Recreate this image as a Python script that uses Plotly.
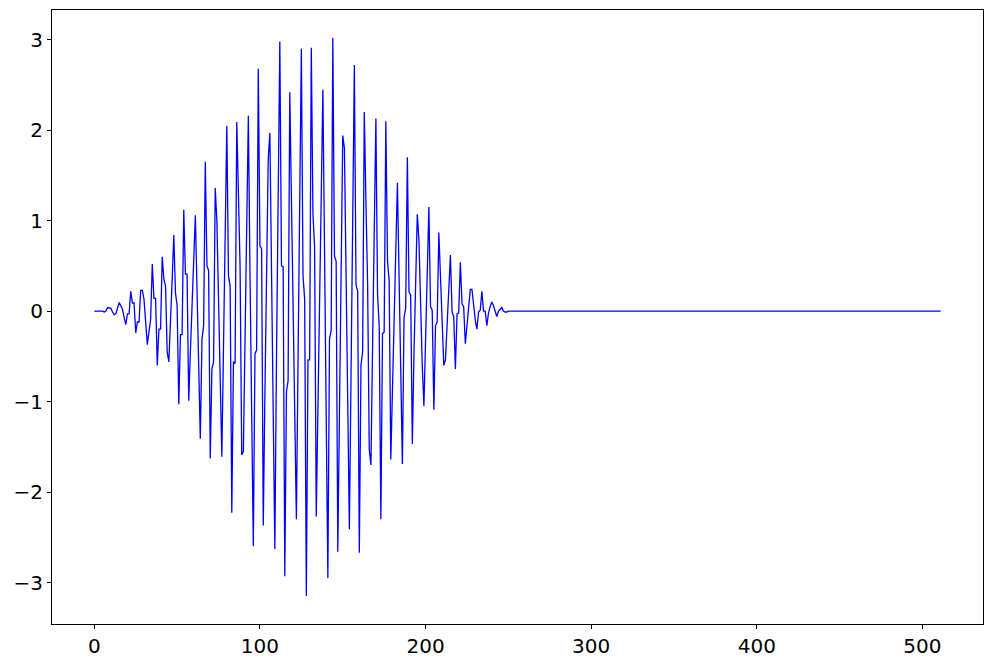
import plotly.graph_objects as go

# signal samples 0..250; remaining samples up to 511 are zero
head_values = [
    0, 0, 0, 0, 0, 0, -0.01, 0.0, 0.04, 0.035,
    0.03, -0.01, -0.04, -0.03, 0.03, 0.095, 0.06, 0.02, -0.07, -0.15,
    -0.03, -0.03, 0.22, 0.09, 0.09, -0.24, -0.12, -0.12, 0.23, 0.23,
    0.13, -0.12, -0.37, -0.23, -0.09, 0.52, 0.14, 0.14, -0.60, -0.2,
    -0.2, 0.6, 0.35, 0.28, -0.45, -0.56, -0.16, 0.35, 0.84, 0.2,
    0.06, -1.03, -0.26, -0.26, 1.12, 0.41, 0.41, -0.99, -0.45, 0.05,
    0.55, 1.06, 0.24, -0.58, -1.41, -0.31, -0.16, 1.65, 0.5, 0.45,
    -1.63, -0.64, -0.56, 1.36, 1.0, 0.13, -0.74, -1.61, -0.39, 0.83,
    2.05, 0.39, 0.28, -2.23, -0.56, -0.58, 2.09, 1.3, 0.5, -1.59,
    -1.55, -0.31, 0.92, 2.16, 0.39, -1.1, -2.6, -0.47, -0.43, 2.68,
    0.72, 0.69, -2.37, -0.9, 0.6, 1.68, 1.97, 0.44, -1.1, -2.63,
    -0.5, 1.2, 2.98, 0.5, 0.49, -2.93, -0.89, -0.77, 2.42, 1.25,
    0.07, -1.1, -2.3, -0.55, 1.18, 2.9, 0.39, 0.13, -3.15, -0.54,
    -0.54, 2.91, 1.07, 0.71, -2.27, -1.06, 0.12, 1.29, 2.45, 0.67,
    -1.12, -2.95, -0.31, -0.21, 3.02, 0.61, 0.55, -2.66, -1.13, 0.4,
    1.94, 1.8, 0.4, -1.0, -2.41, -0.7, 1.0, 2.72, 0.29, 0.22,
    -2.67, -0.6, -0.45, 2.2, 1.2, 0.3, -1.53, -1.70, -0.4, 0.87,
    2.13, 0.19, -0.17, -2.3, -0.25, -0.23, 2.1, 0.56, 0.34, -1.64,
    -0.87, -0.1, 0.65, 1.42, 0.38, -0.66, -1.69, -0.07, 0.03, 1.7,
    0.21, 0.18, -1.47, -0.47, 0.3, 1.07, 0.78, -0.1, -0.6, -1.05,
    -0.32, 0.42, 1.15, 0.05, 0.01, -1.09, -0.16, -0.12, 0.87, 0.38,
    -0.11, -0.6, -0.54, -0.15, 0.23, 0.62, -0.01, -0.06, -0.64, -0.03,
    -0.02, 0.54, 0.08, 0.05, -0.36, -0.14, 0.05, 0.24, 0.24, 0.05,
    -0.1, -0.2, -0.01, 0.01, 0.22, 0.0, 0.0, -0.16, -0.02, 0.05,
    0.1, 0.06, 0.0, -0.06, 0.0, 0.02, 0.04, 0.0, -0.01, -0.01,
    0.0,
]
n_samples = 512
tail_values = [0.0] * (n_samples - len(head_values))
values = head_values + tail_values
sample_index = list(range(n_samples))

x_ticks = [0, 100, 200, 300, 400, 500]
y_ticks = [-3, -2, -1, 0, 1, 2, 3]

# matplotlib-like 5% margins
xmin, xmax = min(sample_index), max(sample_index)
ymin, ymax = min(values), max(values)
xpad = 0.05 * (xmax - xmin)
ypad = 0.05 * (ymax - ymin)

fig = go.Figure()
fig.add_trace(go.Scatter(
    x=sample_index, y=values, mode="lines",
    line=dict(color="#0000ff", width=1.3),
    hoverinfo="x+y", showlegend=False,
))

axis_common = dict(
    showgrid=False, zeroline=False,
    showline=True, linecolor="black", linewidth=1.2, mirror=True,
    ticks="outside", ticklen=4, tickwidth=1.2, tickcolor="black",
    tickfont=dict(family="DejaVu Sans", size=20, color="black"),
)

fig.update_layout(
    width=992, height=665,
    margin=dict(l=52, r=9, t=10, b=41, autoexpand=False),
    paper_bgcolor="white", plot_bgcolor="white",
    xaxis=dict(range=[xmin - xpad, xmax + xpad], tickvals=x_ticks, **axis_common),
    yaxis=dict(range=[ymin - ypad, ymax + ypad], tickvals=y_ticks,
               ticktext=[("\u2212" + str(-t)) if t < 0 else str(t) for t in y_ticks],
               **axis_common),
)

fig.write_html(
    "out.html",
    config={"displayModeBar": False},
    post_script="document.body.style.margin='0';document.body.style.padding='0';",
)
